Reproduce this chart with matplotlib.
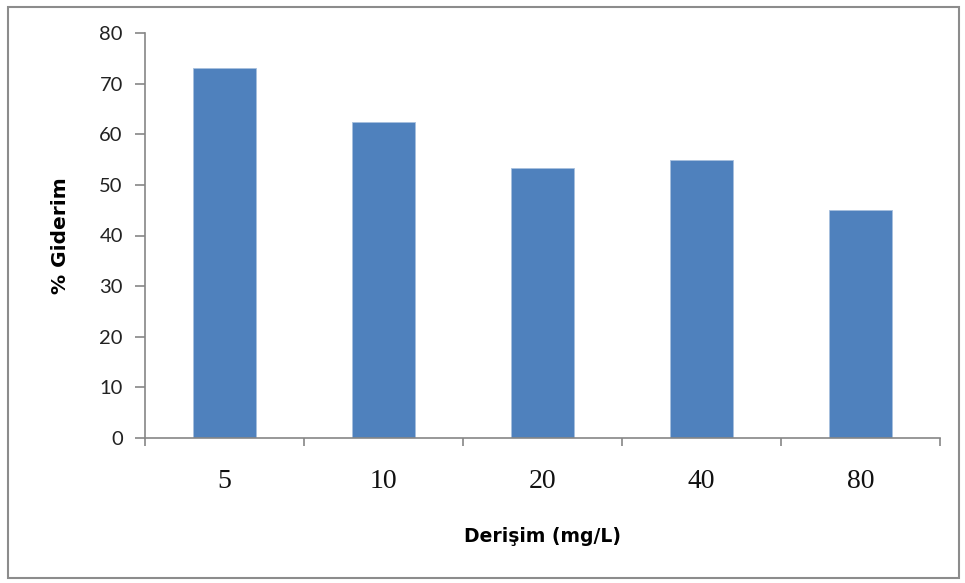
import matplotlib
matplotlib.use("Agg")
import matplotlib.pyplot as plt
from matplotlib.patches import Rectangle

categories = ["5", "10", "20", "40", "80"]
values = [73.1, 62.4, 53.3, 54.9, 45.0]
yticks = [0, 10, 20, 30, 40, 50, 60, 70, 80]

fig = plt.figure(figsize=(9.65, 5.83), dpi=100)
ax = fig.add_axes([145/965, 1-438/583, (940-145)/965, (438-33)/583])

x = list(range(len(categories)))
ax.bar(x, values, width=0.39, color="#4F81BD", edgecolor="#A7BFDE", linewidth=0.6)

ax.set_xlim(-0.5, len(categories)-0.5)
ax.set_ylim(0, 80)
ax.set_yticks(yticks)
ax.set_yticklabels([str(v) for v in yticks], family="Lato", fontsize=14.5, color="#222222")
ax.set_xticks(x)
ax.set_xticklabels(categories, family="Liberation Serif", fontsize=20, color="#111111")
ax.tick_params(axis="x", length=0, pad=22)
ax.set_xticks([i - 0.5 for i in range(len(categories)+1)], minor=True)
ax.tick_params(axis="x", which="minor", length=6, color="#868686", width=1.2, direction="out")
ax.tick_params(axis="y", length=7, color="#868686", width=1.2, direction="out", pad=9)

for s in ["top", "right"]:
    ax.spines[s].set_visible(False)
for s in ["left", "bottom"]:
    ax.spines[s].set_color("#868686")
    ax.spines[s].set_linewidth(1.2)

ax.set_xlabel("Derişim (mg/L)", family="DejaVu Sans", fontweight="bold", fontsize=13.5, labelpad=24)
ax.set_ylabel("% Giderim", family="DejaVu Sans", fontweight="bold", fontsize=14.5, labelpad=21)

fig.patches.append(Rectangle((8/965, 5/583), (962-8)/965 - 0.003, (578-5)/583 - 0.003,
                             transform=fig.transFigure, fill=False, edgecolor="#8C8C8C", linewidth=1.5))

fig.savefig("out.png", dpi=100)
